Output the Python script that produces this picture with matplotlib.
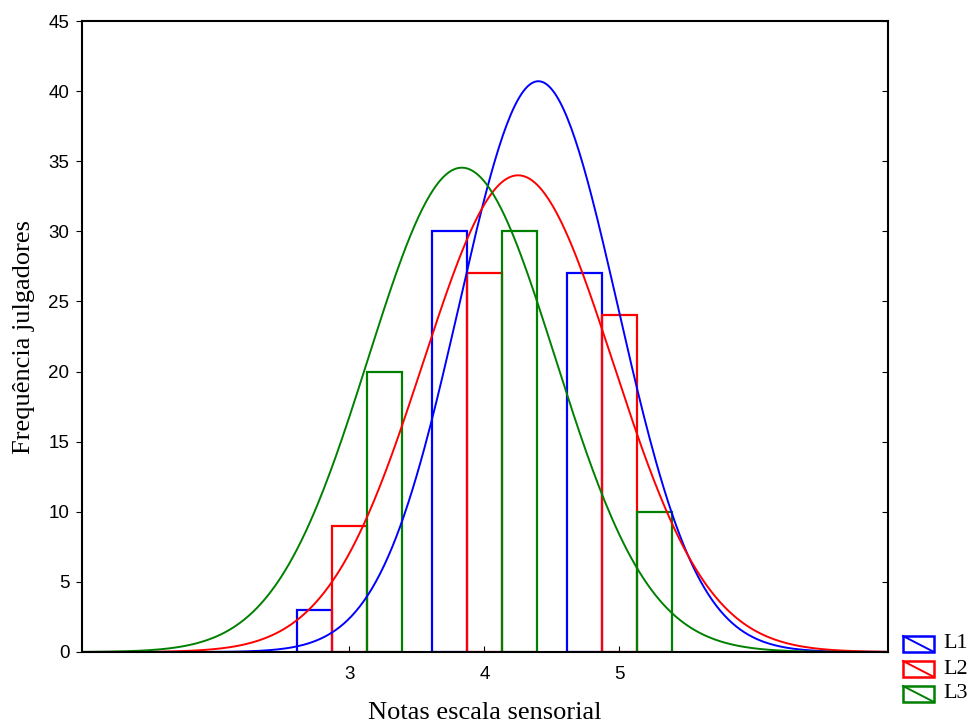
import numpy as np
import matplotlib.pyplot as plt
from matplotlib.patches import Rectangle
from matplotlib.lines import Line2D

# notas (categorias) e frequencias por lote
notas = [3, 4, 5]
L1 = [3, 30, 27]
L2 = [9, 27, 24]
L3 = [20, 30, 10]
series = [("L1", L1, "#0000ff"), ("L2", L2, "#ff0000"), ("L3", L3, "#008000")]

fig = plt.figure(figsize=(9.7, 7.25), dpi=100)
ax = fig.add_axes([0.0845, 0.1007, 0.831, 0.8703])

w = 0.26
offs = [-w, 0, w]
xs = np.linspace(1.02, 6.97, 400)
for (name, vals, col), off in zip(series, offs):
    x = np.array(notas) + off
    ax.bar(x, vals, width=w, fill=False, edgecolor=col, linewidth=1.6, align="center")
    # curva normal ajustada aos dados
    v = np.repeat(notas, vals)
    m = v.mean()
    s = v.std(ddof=1)
    y = len(v) / (s * np.sqrt(2 * np.pi)) * np.exp(-0.5 * ((xs - m) / s) ** 2)
    ax.plot(xs, y, color=col, linewidth=1.4)

ax.set_xlim(1.02, 6.99)
ax.set_ylim(0, 45)
ax.set_xticks(notas)
ax.set_yticks(range(0, 46, 5))
for sp in ax.spines.values():
    sp.set_linewidth(1.5)
ax.tick_params(axis="y", direction="out", length=4, labelsize=13.5, right=True, pad=5)
ax.tick_params(axis="x", direction="in", length=4, labelsize=13.5, pad=10)
for t in ax.yaxis.get_major_ticks():
    t.tick2line.set_marker(0)  # right ticks point inward
    t.tick2line.set_markersize(4)
for lab in ax.get_xticklabels() + ax.get_yticklabels():
    lab.set_fontfamily("Liberation Sans")

ax.set_xlabel("Notas escala sensorial", fontfamily="Liberation Serif", fontsize=19, labelpad=14)
ax.set_ylabel("Frequência julgadores", fontfamily="Liberation Serif", fontsize=19, labelpad=10)

# legenda manual
W, H = 970, 725
for i, (name, vals, col) in enumerate(series):
    x0, y0 = 903, 636 + i * 25
    bw, bh = 31, 16
    fig.patches.append(Rectangle((x0 / W, 1 - (y0 + bh) / H), bw / W, bh / H,
                                 transform=fig.transFigure, fill=False,
                                 edgecolor=col, linewidth=1.8))
    fig.lines.append(Line2D([x0 / W, (x0 + bw) / W], [1 - y0 / H, 1 - (y0 + bh) / H],
                            transform=fig.transFigure, color=col, linewidth=1.4))
    fig.text((x0 + bw + 9) / W, 1 - (y0 + bh / 2) / H, name, va="center",
             fontfamily="Liberation Serif", fontsize=16)

fig.savefig("out.png", dpi=100)
